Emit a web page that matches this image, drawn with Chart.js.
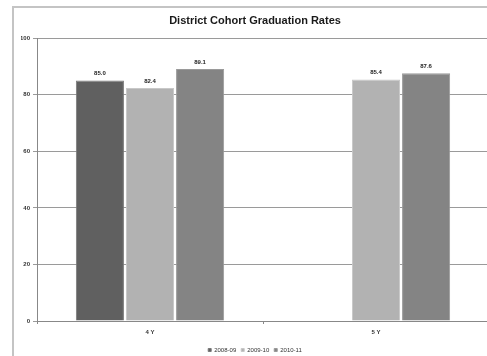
<!DOCTYPE html>
<html>
<head>
<meta charset="utf-8">
<script src="https://cdn.jsdelivr.net/npm/chart.js@4/dist/chart.umd.min.js"></script>
<style>
  html, body { margin: 0; padding: 0; background: #fff; overflow: hidden; }
  #wrap { width: 487px; height: 356px; overflow: hidden; position: relative; }
  #wrap canvas { position: absolute; left: 0; top: 0; }
</style>
</head>
<body>
<div id="wrap"><canvas id="c" width="500" height="363"></canvas></div>
<script>
// Cohort groups and graduation rates per school year
const categories = ['4 Y', '5 Y'];
const seriesNames = ['2008-09', '2009-10', '2010-11'];
const rates0809 = [85.0, null];
const rates0910 = [82.4, 85.4];
const rates1011 = [89.1, 87.6];
const yTicks = [0, 20, 40, 60, 80, 100];

const fills = ['#606060', '#b2b2b2', '#848484'];
const edges = ['#7a7a7a', '#c8c8c8', '#9a9a9a'];

// Outer frame of the chart panel
const framePlugin = {
  id: 'frame',
  beforeDraw(chart) {
    const ctx = chart.ctx;
    ctx.save();
    ctx.fillStyle = '#ffffff';
    ctx.fillRect(0, 0, chart.width, chart.height);
    ctx.strokeStyle = '#c4c4c4';
    ctx.lineWidth = 2;
    ctx.strokeRect(13, 7, 600, 400);
    ctx.restore();
  }
};

// Value captions above each bar
const valueLabels = {
  id: 'valueLabels',
  afterDatasetsDraw(chart) {
    const ctx = chart.ctx;
    ctx.save();
    ctx.font = 'bold 6px "Liberation Sans", Arial, sans-serif';
    ctx.fillStyle = '#222';
    ctx.textAlign = 'center';
    ctx.textBaseline = 'bottom';
    chart.data.datasets.forEach((ds, i) => {
      const meta = chart.getDatasetMeta(i);
      meta.data.forEach((bar, j) => {
        const v = ds.data[j];
        if (v === null || v === undefined) return;
        ctx.fillText(v.toFixed(1), bar.x, bar.y - 4);
      });
    });
    ctx.restore();
  }
};

new Chart(document.getElementById('c'), {
  type: 'bar',
  data: {
    labels: categories,
    datasets: [rates0809, rates0910, rates1011].map((d, i) => ({
      label: seriesNames[i],
      data: d,
      backgroundColor: fills[i],
      borderColor: edges[i],
      borderWidth: 1,
      categoryPercentage: 0.665,
      barPercentage: 0.96
    }))
  },
  options: {
    responsive: false,
    animation: false,
    layout: { padding: { left: 21, right: 11, top: 0, bottom: 0 } },
    plugins: {
      title: {
        display: true,
        text: 'District Cohort Graduation Rates',
        font: { family: '"Liberation Sans", Arial, sans-serif', size: 11, weight: 'bold' },
        color: '#1a1a1a',
        padding: { top: 14, bottom: 11 },
        align: 'center'
      },
      legend: {
        position: 'bottom',
        labels: {
          boxWidth: 3,
          boxHeight: 3,
          padding: 5,
          font: { family: '"Liberation Sans", Arial, sans-serif', size: 6 },
          color: '#333'
        }
      },
      tooltip: { enabled: false }
    },
    scales: {
      x: {
        grid: { display: true, drawOnChartArea: false, tickLength: 3, color: '#888', offset: true },
        border: { color: '#888', width: 1 },
        ticks: {
          font: { family: '"Liberation Sans", Arial, sans-serif', size: 6, weight: 'bold' },
          color: '#333',
          padding: 5
        },
        afterFit(s) { s.height = 21; }
      },
      y: {
        min: 0,
        max: 100,
        afterBuildTicks(s) { s.ticks = yTicks.map(v => ({ value: v })); },
        grid: { color: '#9a9a9a', tickLength: 4, lineWidth: 1 },
        border: { color: '#888', width: 1 },
        ticks: {
          font: { family: '"Liberation Sans", Arial, sans-serif', size: 6, weight: 'bold' },
          color: '#333',
          padding: 3
        },
        afterFit(s) { s.width = 16; }
      }
    }
  },
  plugins: [framePlugin, valueLabels]
});
</script>
</body>
</html>
